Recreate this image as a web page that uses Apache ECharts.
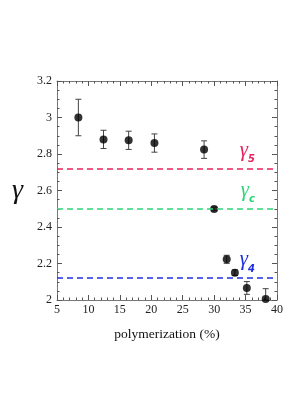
<!DOCTYPE html>
<html><head><meta charset="utf-8">
<script src="https://cdn.jsdelivr.net/npm/echarts@6/dist/echarts.min.js"></script>
<style>html,body{margin:0;padding:0;background:#fff}#c{width:290px;height:410px}</style>
</head><body><div id="c"></div>
<script>
const polymerization = [8.4, 12.4, 16.4, 20.5, 28.4, 30.0, 32.0, 33.3, 35.2, 38.2];
const gammaValues   = [3.00, 2.88, 2.875, 2.86, 2.824, 2.499, 2.223, 2.150, 2.066, 2.006];
const gammaErrors   = [0.10, 0.05, 0.05, 0.05, 0.048, 0.010, 0.022, 0.015, 0.035, 0.056];
const refLevels = [2.72, 2.50, 2.12];
const refColors = ['#e8235a', '#2ed67a', '#1f2fe0'];
const refSubs = ['5', 'c', '4'];
const xTicks = [5, 40, 5];
const yTicks = [2, 3.2, 0.2];

const serif = 'Liberation Serif';
const pts = polymerization.map((x, i) => [x, gammaValues[i], gammaErrors[i]]);

const axisCommon = {
  axisLine: {show: true, lineStyle: {color: '#777', width: 1}},
  axisTick: {show: true, inside: true, length: 5, lineStyle: {color: '#555'}},
  minorTick: {show: true, length: 2.5, lineStyle: {color: '#555'}},
  splitLine: {show: false}
};

const chart = echarts.init(document.getElementById('c'));
chart.setOption({
  animation: false,
  grid: {left: 57, right: 13, top: 81, bottom: 110},
  xAxis: [
    {type: 'value', min: xTicks[0], max: xTicks[1], interval: xTicks[2], position: 'bottom',
      minorTick: {show: true, splitNumber: 5, length: 2.5, lineStyle: {color: '#555'}},
      axisLabel: {fontFamily: serif, fontSize: 12, color: '#222', margin: 4},
      name: 'polymerization (%)', nameLocation: 'middle', nameGap: 27,
      nameTextStyle: {fontFamily: serif, fontSize: 13.5, color: '#111'}},
    {type: 'value', min: xTicks[0], max: xTicks[1], interval: xTicks[2], position: 'top',
      minorTick: {show: true, splitNumber: 5, length: 2.5, lineStyle: {color: '#555'}},
      axisLabel: {show: false}}
  ].map(a => Object.assign({}, axisCommon, a)),
  yAxis: [
    {type: 'value', min: yTicks[0], max: yTicks[1], interval: yTicks[2], position: 'left',
      minorTick: {show: true, splitNumber: 4, length: 2.5, lineStyle: {color: '#555'}},
      axisLabel: {fontFamily: serif, fontSize: 12, color: '#222', margin: 5},
      name: 'γ', nameLocation: 'middle', nameGap: 34, nameRotate: 0,
      nameTextStyle: {fontFamily: serif, fontStyle: 'italic', fontSize: 28, color: '#111', padding: [0, 0, 14, 0]}},
    {type: 'value', min: yTicks[0], max: yTicks[1], interval: yTicks[2], position: 'right',
      minorTick: {show: true, splitNumber: 4, length: 2.5, lineStyle: {color: '#555'}},
      axisLabel: {show: false}}
  ].map(a => Object.assign({}, axisCommon, a)),
  series: [
    {
      type: 'line', data: [], silent: true,
      markLine: {
        symbol: 'none', silent: true,
        data: refLevels.map((v, i) => ({
          yAxis: v,
          lineStyle: {color: refColors[i], type: [6, 4], width: 1.6},
          label: {show: true, position: 'insideEndTop', distance: [22, 8],
            formatter: '{g|γ}{s|' + refSubs[i] + '}',
            rich: {
              g: {fontFamily: serif, fontStyle: 'italic', fontSize: 21, color: refColors[i]},
              s: {fontFamily: 'DejaVu Sans', fontWeight: 'bold', fontStyle: 'italic', fontSize: 10, color: refColors[i], verticalAlign: 'bottom', padding: [0, 0, -4, 0]}
            }}
        }))
      }
    },
    {
      type: 'custom', clip: false, z: 3,
      data: pts,
      renderItem: function (params, api) {
        const x = api.value(0), y = api.value(1), e = api.value(2);
        const top = api.coord([x, y + e]);
        const bot = api.coord([x, Math.max(y - e, yTicks[0])]);
        const c = 3;
        const st = {stroke: '#444', lineWidth: 1};
        return {type: 'group', children: [
          {type: 'line', shape: {x1: top[0], y1: top[1], x2: bot[0], y2: bot[1]}, style: st},
          {type: 'line', shape: {x1: top[0] - c, y1: top[1], x2: top[0] + c, y2: top[1]}, style: st},
          {type: 'line', shape: {x1: bot[0] - c, y1: bot[1], x2: bot[0] + c, y2: bot[1]}, style: st}
        ]};
      }
    },
    {
      type: 'scatter', clip: false, z: 4,
      data: pts.map(p => [p[0], p[1]]),
      symbol: 'circle', symbolSize: 8,
      itemStyle: {color: '#000'}
    }
  ]
});
</script></body></html>
